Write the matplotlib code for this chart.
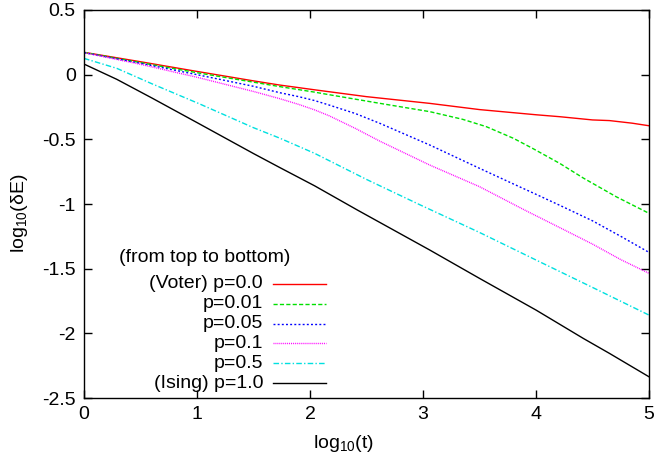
import matplotlib
matplotlib.use("Agg")
import matplotlib.pyplot as plt

plt.rcParams['font.family'] = ['Liberation Sans', 'DejaVu Sans']
plt.rcParams['mathtext.fontset'] = 'custom'
plt.rcParams['mathtext.rm'] = 'Liberation Sans'
plt.rcParams['mathtext.it'] = 'Liberation Sans:italic'

# ---- data (log10 t, log10 dE) ----
x_p00 = [0, 0.5, 1, 1.5, 1.73, 2.04, 2.5, 3.06, 3.5, 4, 4.21, 4.5, 4.65, 4.75, 4.85, 5]
y_p00 = [0.173, 0.10, 0.025, -0.048, -0.08, -0.117, -0.17, -0.222, -0.27, -0.31, -0.325, -0.35, -0.355, -0.365, -0.375, -0.395]

x_p001 = [0, 0.5, 1, 1.5, 1.73, 2.04, 2.17, 2.62, 3.06, 3.35, 3.56, 3.8, 3.97, 4.21, 4.42, 4.71, 5]
y_p001 = [0.172, 0.093, 0.015, -0.058, -0.092, -0.135, -0.155, -0.222, -0.286, -0.345, -0.402, -0.492, -0.57, -0.686, -0.80, -0.944, -1.072]

x_p005 = [0, 0.5, 1, 1.5, 1.73, 1.9, 2.04, 2.17, 2.4, 2.62, 3.06, 3.5, 3.8, 4.0, 4.21, 4.5, 4.75, 5]
y_p005 = [0.17, 0.088, 0.0, -0.09, -0.139, -0.17, -0.2, -0.235, -0.3, -0.377, -0.544, -0.724, -0.845, -0.925, -1.01, -1.13, -1.25, -1.374]

x_p01 = [0, 0.5, 1, 1.5, 1.73, 1.9, 2.04, 2.17, 2.4, 2.62, 3.06, 3.5, 3.9, 4.25, 4.5, 4.75, 5]
y_p01 = [0.17, 0.08, -0.02, -0.13, -0.185, -0.23, -0.272, -0.318, -0.415, -0.515, -0.699, -0.866, -1.047, -1.2, -1.31, -1.43, -1.536]

x_p05 = [0, 0.29, 0.6, 1.02, 1.5, 1.73, 2.04, 2.5, 2.97, 3.5, 4.0, 4.5, 5]
y_p05 = [0.126, 0.049, -0.07, -0.225, -0.41, -0.49, -0.608, -0.81, -1.005, -1.22, -1.433, -1.645, -1.859]

x_p10 = [0, 0.29, 0.6, 1.02, 1.5, 1.73, 2.04, 2.42, 3.06, 3.5, 4.0, 4.42, 4.65, 5]
y_p10 = [0.082, -0.036, -0.18, -0.38, -0.61, -0.717, -0.859, -1.047, -1.356, -1.575, -1.82, -2.04, -2.155, -2.336]

labels = ["(Voter) p=0.0", "p=0.01", "p=0.05", "p=0.1", "p=0.5", "(Ising) p=1.0"]
legend_title = "(from top to bottom)"
xticks = [0, 1, 2, 3, 4, 5]
yticks = [-2.5, -2, -1.5, -1, -0.5, 0, 0.5]
ytick_labels = ["-2.5", "-2", "-1.5", "-1", "-0.5", "0", "0.5"]

series = [(x_p00, y_p00), (x_p001, y_p001), (x_p005, y_p005),
          (x_p01, y_p01), (x_p05, y_p05), (x_p10, y_p10)]
colors = ["#ff0000", "#00e000", "#0000ff", "#ff00ff", "#00e0e0", "#000000"]
dashes = [None, (3, 1.6), (1.4, 1.6), (0.7, 0.7), (4, 1.6, 1, 1.6), None]

W, H = 657, 461
fig = plt.figure(figsize=(W / 100, H / 100), dpi=100)
L, R, T, B = 84, 649, 10, 398
ax = fig.add_axes([L / W, 1 - B / H, (R - L) / W, (B - T) / H])

FS = 14
lines = []
for (xs, ys), c, d in zip(series, colors, dashes):
    ln, = ax.plot(xs, ys, color=c, lw=1.0)
    if d is not None:
        ln.set_dashes(d)
    lines.append(ln)

ax.set_xlim(0, 5)
ax.set_ylim(-2.5, 0.5)
ax.set_xticks(xticks)
ax.set_xticklabels([str(v) for v in xticks])
ax.set_yticks(yticks)
ax.set_yticklabels(ytick_labels)
ax.tick_params(direction='in', length=6, width=1, top=True, right=True,
               labelsize=FS, pad=6, colors='black')
for s in ax.spines.values():
    s.set_linewidth(1.0)

ax.set_xlabel(r"log$_{\mathrm{10}}$(t)", fontsize=FS)
ax.set_ylabel(r"log$_{\mathrm{10}}$(δE)", fontsize=FS)
ax.xaxis.set_label_coords((343.5 - L) / (R - L), (B - 433) / (B - T))
ax.yaxis.set_label_coords((30 - L) / (R - L), (B - 213) / (B - T))

# ---- manual legend (gnuplot style) ----
def ax_frac(px, py):
    return (px - L) / (R - L), (B - py) / (B - T)

tx, ty = ax_frac(119, 258)
ax.text(tx, ty, legend_title, transform=ax.transAxes, ha='left', va='center', fontsize=FS)
row_y = [284, 304, 323.5, 343, 363, 383]
for i, (lab, ln, py) in enumerate(zip(labels, lines, row_y)):
    xr, yr = ax_frac(263, py)
    ax.text(xr, yr, lab, transform=ax.transAxes, ha='right', va='center', fontsize=FS)
    x0, yl = ax_frac(273, py)
    x1, _ = ax_frac(326, py)
    h, = ax.plot([x0, x1], [yl, yl], transform=ax.transAxes, color=ln.get_color(),
                 lw=1.0, clip_on=False)
    if dashes[i] is not None:
        h.set_dashes(dashes[i])

fig.savefig("out.png", dpi=100)
